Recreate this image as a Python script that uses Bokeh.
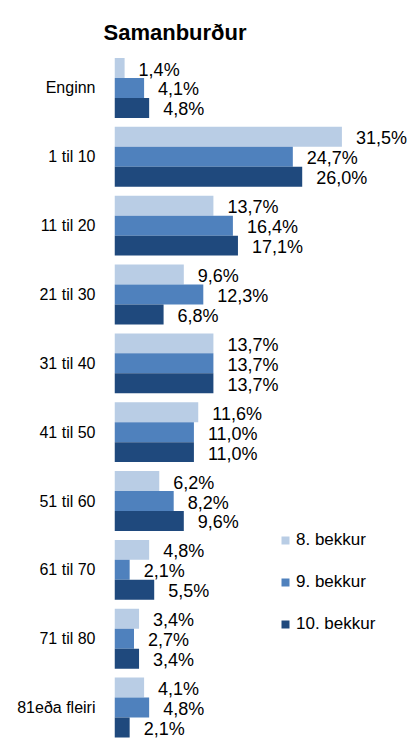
from bokeh.plotting import figure
from bokeh.models import ColumnDataSource, Range1d, Legend, LegendItem, FixedTicker
from bokeh.transform import dodge
from bokeh.core.properties import value
from bokeh.embed import file_html
from bokeh.resources import INLINE

categories = ["Enginn", "1 til 10", "11 til 20", "21 til 30", "31 til 40",
              "41 til 50", "51 til 60", "61 til 70", "71 til 80", "81eða fleiri"]
series_names = ["8. bekkur", "9. bekkur", "10. bekkur"]
bekkur8 = [1.4, 31.5, 13.7, 9.6, 13.7, 11.6, 6.2, 4.8, 3.4, 4.1]
bekkur9 = [4.1, 24.7, 16.4, 12.3, 13.7, 11.0, 8.2, 2.1, 2.7, 4.8]
bekkur10 = [4.8, 26.0, 17.1, 6.8, 13.7, 11.0, 9.6, 5.5, 3.4, 2.1]
colors = ["#B9CDE5", "#4F81BD", "#1F497D"]

FONT = "Liberation Sans"
bar_h = 0.29
offsets = [-bar_h, 0.0, bar_h]

p = figure(width=410, height=738, output_backend="svg", toolbar_location=None,
           x_range=Range1d(0, 41.0),
           y_range=Range1d(len(categories) - 1 + 0.45, -0.559),
           min_border_left=114, min_border_right=0, min_border_top=49,
           min_border_bottom=0)

p.title.text = "Samanburður"
p.title.text_font = FONT
p.title.text_font_size = "22px"
p.title.text_font_style = "bold"
p.title.align = "left"
p.title.offset = -11
p.title.text_color = "#000000"

p.outline_line_color = None
p.xgrid.visible = False
p.ygrid.visible = False
p.xaxis.visible = False

idx = list(range(len(categories)))
p.yaxis.ticker = FixedTicker(ticks=idx)
p.yaxis.major_label_overrides = {i: c for i, c in enumerate(categories)}
p.yaxis.axis_line_color = None
p.yaxis.major_tick_line_color = None
p.yaxis.minor_tick_line_color = None
p.yaxis.major_tick_in = 0
p.yaxis.major_tick_out = 0
p.yaxis.major_label_standoff = 19
p.yaxis.major_label_text_font = FONT
p.yaxis.major_label_text_font_size = "16px"
p.yaxis.major_label_text_color = "#000000"

items = []
for name, vals, col, off in zip(series_names, [bekkur8, bekkur9, bekkur10], colors, offsets):
    src = ColumnDataSource(dict(
        y=idx, v=vals,
        lab=[f"{v:.1f}".replace(".", ",") + "%" for v in vals]))
    r = p.hbar(y=dodge("y", off, range=p.y_range), right="v", left=0, height=bar_h,
               source=src, fill_color=col, line_color=None)
    p.text(x="v", y=dodge("y", off, range=p.y_range), text="lab", source=src,
           x_offset=14, y_offset=1.5, text_font=value(FONT), text_font_size="18px",
           text_baseline="middle", text_align="left", text_color="#000000")
    items.append(LegendItem(label=name, renderers=[r]))

legend = Legend(items=items, location=(166, 104), orientation="vertical",
                padding=0, margin=0, spacing=22, glyph_width=10, glyph_height=10,
                label_height=20, label_standoff=6,
                label_text_font=FONT, label_text_font_size="17px",
                label_text_color="#000000",
                border_line_color=None, background_fill_alpha=0)
p.add_layout(legend, "center")

open("out.html", "w").write(file_html(p, INLINE))
